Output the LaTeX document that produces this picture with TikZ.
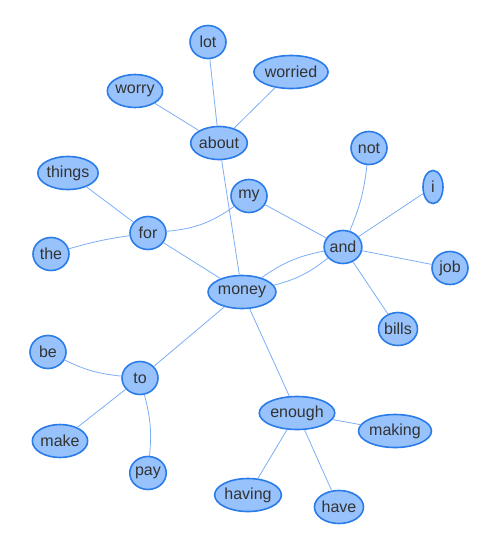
\documentclass[tikz,border=0pt]{standalone}
\usepackage{fontspec}
\setmainfont{Liberation Sans}
\usetikzlibrary{shapes.geometric}

\definecolor{knotenfill}{HTML}{97C2FC}
\definecolor{knotenrand}{HTML}{2B7CE9}
\definecolor{kante}{HTML}{7DAEF5}

\begin{document}
\begin{tikzpicture}[x=1pt, y=-1pt,
    wort/.style={ellipse, draw=knotenrand, fill=knotenfill, line width=1.6pt,
        minimum width=36pt, minimum height=33pt, inner xsep=0pt, inner ysep=1pt,
        text=black!80, font=\fontsize{16}{18}\selectfont},
    kante/.style={draw=kante, line width=0.8pt}]

    % 1. Rahmen (500 x 550)
    \useasboundingbox (0,0) rectangle (500,550);

    % 2. Knoten
    \node[wort] (lot)     at (208,42)  {lot};
    \node[wort] (worried) at (291,72)  {worried};
    \node[wort] (worry)   at (135,91)  {worry};
    \node[wort] (about)   at (219,143) {about};
    \node[wort] (not)     at (369,148) {not};
    \node[wort] (things)  at (68,173)  {things};
    \node[wort] (my)      at (249,196) {my};
    \node[wort, minimum width=20pt] (i) at (433,187) {i};
    \node[wort] (for)     at (148,233) {for};
    \node[wort] (and)     at (343,247) {and};
    \node[wort] (the)     at (51,254)  {the};
    \node[wort] (job)     at (450,268) {job};
    \node[wort] (money)   at (242,292) {money};
    \node[wort] (bills)   at (398,329) {bills};
    \node[wort] (be)      at (48,352)  {be};
    \node[wort] (to)      at (140,378) {to};
    \node[wort] (enough)  at (297,413) {enough};
    \node[wort] (making)  at (395,431) {making};
    \node[wort] (make)    at (60,441)  {make};
    \node[wort] (pay)     at (148,473) {pay};
    \node[wort] (having)  at (248,495) {having};
    \node[wort] (have)    at (339,507) {have};

    % 3. Kanten
    \draw[kante] (lot) -- (about);
    \draw[kante] (worried) -- (about);
    \draw[kante] (worry) -- (about);
    \draw[kante] (about) -- (money);
    \draw[kante] (things) -- (for);
    \draw[kante] (the) to[bend left=4] (for);
    \draw[kante] (for) to[bend right=15] (my);
    \draw[kante] (for) -- (money);
    \draw[kante] (my) -- (and);
    \draw[kante] (not) to[bend left=8] (and);
    \draw[kante] (i) -- (and);
    \draw[kante] (job) -- (and);
    \draw[kante] (bills) -- (and);
    \draw[kante] (and) to[bend left=12] (money);
    \draw[kante] (and) to[bend right=12] (money);
    \draw[kante] (money) -- (to);
    \draw[kante] (be) to[bend right=10] (to);
    \draw[kante] (make) -- (to);
    \draw[kante] (to) to[bend left=10] (pay);
    \draw[kante] (money) -- (enough);
    \draw[kante] (enough) -- (making);
    \draw[kante] (enough) -- (having);
    \draw[kante] (enough) -- (have);

\end{tikzpicture}
\end{document}
